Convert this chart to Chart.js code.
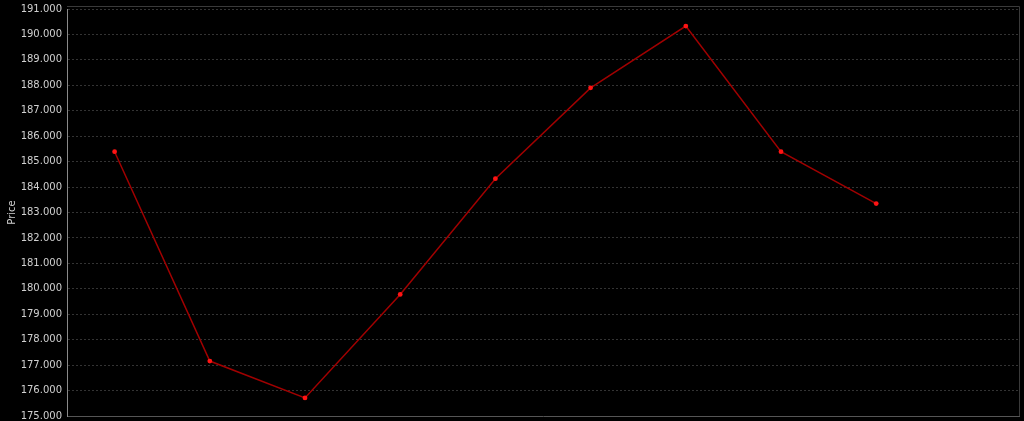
<!DOCTYPE html>
<html>
<head>
<meta charset="utf-8">
<script src="https://cdn.jsdelivr.net/npm/chart.js@4"></script>
<style>
html,body{margin:0;padding:0;background:#000;}
#wrap{width:1024px;height:421px;}
</style>
</head>
<body>
<div id="wrap"><canvas id="c" width="1024" height="421"></canvas></div>
<script>
const categories = ["1","2","3","4","5","6","7","8","9","10"];
const prices = [185.39, 177.16, 175.71, 179.78, 184.33, 187.90, 190.33, 185.39, 183.35, null];
const yMin = 175;
const yMax = 191;
const yStep = 1;
const yTitle = "Price";

const frame = {
  id: 'frame',
  beforeDatasetsDraw(chart) {
    const {ctx, chartArea: a} = chart;
    ctx.save();
    ctx.strokeStyle = '#3a3a3a';
    ctx.lineWidth = 1;
    ctx.beginPath();
    ctx.moveTo(a.left, a.top - 2.5);
    ctx.lineTo(a.right + 0.5, a.top - 2.5);
    ctx.lineTo(a.right + 0.5, a.bottom);
    ctx.stroke();
    ctx.restore();
  }
};

new Chart(document.getElementById('c'), {
  type: 'line',
  data: {
    labels: categories,
    datasets: [{
      data: prices,
      borderColor: '#a00000',
      borderWidth: 1.5,
      pointRadius: 2.4,
      pointHoverRadius: 2.4,
      pointBackgroundColor: '#ff1414',
      pointBorderColor: '#ff1414',
      pointBorderWidth: 0,
      tension: 0,
      spanGaps: false
    }]
  },
  options: {
    responsive: false,
    animation: false,
    devicePixelRatio: 1,
    layout: {padding: {top: 9, right: 5, bottom: 5, left: 0}},
    plugins: {legend: {display: false}, tooltip: {enabled: false}},
    scales: {
      x: {
        offset: true,
        ticks: {display: false},
        grid: {display: false, drawTicks: false},
        border: {display: true, color: '#555', width: 1},
        afterFit(s) { s.height = 0; s.paddingLeft = 0; s.paddingRight = 0; }
      },
      y: {
        min: yMin, max: yMax,
        ticks: {
          stepSize: yStep,
          color: '#d0d0d0',
          padding: 5,
          font: {family: 'DejaVu Sans', size: 10},
          callback: v => Number(v).toFixed(3)
        },
        grid: {color: '#333333', drawTicks: false, lineWidth: 1},
        border: {display: true, color: '#8a8a8a', width: 1, dash: [2, 2]},
        title: {
          display: true, text: yTitle, color: '#d0d0d0',
          font: {family: 'DejaVu Sans', size: 10}, padding: {top: 6, bottom: 0}
        },
        afterFit(s) { s.width = 67; s.paddingTop = 0; s.paddingBottom = 0; }
      }
    }
  },
  plugins: [frame]
});
</script>
</body>
</html>
